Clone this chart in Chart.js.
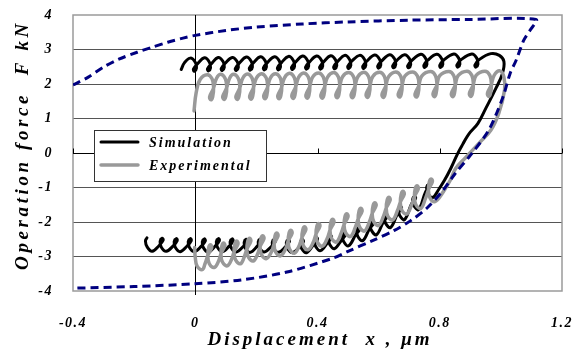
<!DOCTYPE html>
<html>
<head>
<meta charset="utf-8">
<script src="https://cdn.jsdelivr.net/npm/chart.js@4/dist/chart.umd.min.js"></script>
<style>
html,body{margin:0;padding:0;background:#fff;}
#wrap{width:577px;height:351px;position:relative;}
</style>
</head>
<body>
<div id="wrap"><canvas id="c" width="577" height="351"></canvas></div>
<script>
// ---- tick labels ----
const xTicks = [-0.4, 0, 0.4, 0.8, 1.2];
const xTickLabels = ['-0.4', '0', '0.4', '0.8', '1.2'];
const yTicks = [-4, -3, -2, -1, 0, 1, 2, 3, 4];
const yTickLabels = ['-4', '-3', '-2', '-1', '0', '1', '2', '3', '4'];
const seriesNames = ['Simulation', 'Experimental'];
const xTitle = 'Displacement  x , \u03bcm';
const yTitle = 'Operation force  F kN';

// ---- Simulation (black) ----
const simUpper = [
[-0.046,2.42],[-0.035,2.62],
[-0.016,2.75],[0.000,2.63],[0.004,2.46],[-0.003,2.37],[-0.006,2.43],[0.007,2.58],
[0.030,2.76],[0.046,2.64],[0.050,2.47],[0.043,2.38],[0.040,2.44],[0.053,2.59],
[0.075,2.77],[0.091,2.65],[0.095,2.48],[0.088,2.39],[0.085,2.45],[0.098,2.60],
[0.121,2.77],[0.137,2.65],[0.141,2.48],[0.134,2.39],[0.131,2.45],[0.144,2.60],
[0.167,2.78],[0.183,2.66],[0.187,2.49],[0.180,2.40],[0.177,2.46],[0.190,2.61],
[0.213,2.79],[0.229,2.67],[0.233,2.50],[0.226,2.41],[0.223,2.47],[0.236,2.62],
[0.259,2.79],[0.275,2.67],[0.279,2.50],[0.272,2.41],[0.269,2.47],[0.282,2.62],
[0.305,2.80],[0.321,2.68],[0.325,2.51],[0.318,2.42],[0.315,2.48],[0.328,2.63],
[0.351,2.81],[0.367,2.69],[0.371,2.52],[0.364,2.43],[0.361,2.49],[0.374,2.64],
[0.397,2.81],[0.413,2.69],[0.417,2.52],[0.410,2.43],[0.407,2.49],[0.420,2.64],
[0.443,2.82],[0.459,2.70],[0.463,2.53],[0.456,2.44],[0.453,2.50],[0.466,2.65],
[0.489,2.83],[0.505,2.71],[0.509,2.54],[0.502,2.45],[0.499,2.51],[0.512,2.66],
[0.538,2.83],[0.554,2.71],[0.558,2.54],[0.551,2.45],[0.548,2.51],[0.561,2.66],
[0.587,2.84],[0.603,2.72],[0.607,2.55],[0.600,2.46],[0.597,2.52],[0.610,2.67],
[0.636,2.85],[0.652,2.73],[0.656,2.56],[0.649,2.47],[0.646,2.53],[0.659,2.68],
[0.685,2.85],[0.701,2.73],[0.705,2.56],[0.698,2.47],[0.695,2.53],[0.708,2.68],
[0.738,2.86],[0.754,2.74],[0.758,2.57],[0.751,2.48],[0.748,2.54],[0.761,2.69],
[0.790,2.86],[0.806,2.74],[0.810,2.57],[0.803,2.48],[0.800,2.54],[0.813,2.69],
[0.846,2.87],[0.862,2.75],[0.866,2.58],[0.859,2.49],[0.856,2.55],[0.869,2.70],
[0.905,2.87],[0.921,2.75],[0.925,2.58],[0.918,2.49],[0.915,2.55],[0.928,2.70],
[0.967,2.88],[0.995,2.83],[1.010,2.65]
];
const simRight = [
[1.005,2.30],[0.984,1.88],[0.951,1.30],[0.925,0.86],[0.895,0.55],
[0.875,0.25],[0.859,-0.01],[0.836,-0.45],[0.815,-0.80],[0.797,-1.05]
];
const simLower = [
[0.777,-1.29],[0.761,-1.17],[0.757,-1.00],[0.764,-0.91],[0.767,-0.97],[0.754,-1.12],
[0.731,-1.64],[0.715,-1.52],[0.711,-1.35],[0.718,-1.26],[0.721,-1.32],[0.708,-1.47],
[0.685,-1.93],[0.669,-1.81],[0.665,-1.64],[0.672,-1.55],[0.675,-1.61],[0.662,-1.76],
[0.639,-2.16],[0.623,-2.04],[0.619,-1.87],[0.626,-1.78],[0.629,-1.84],[0.616,-1.99],
[0.593,-2.37],[0.577,-2.25],[0.573,-2.08],[0.580,-1.99],[0.583,-2.05],[0.570,-2.20],
[0.548,-2.54],[0.532,-2.42],[0.528,-2.25],[0.535,-2.16],[0.538,-2.22],[0.525,-2.37],
[0.502,-2.69],[0.486,-2.57],[0.482,-2.40],[0.489,-2.31],[0.492,-2.37],[0.479,-2.52],
[0.456,-2.77],[0.440,-2.65],[0.436,-2.48],[0.443,-2.39],[0.446,-2.45],[0.433,-2.60],
[0.410,-2.83],[0.394,-2.71],[0.390,-2.54],[0.397,-2.45],[0.400,-2.51],[0.387,-2.66],
[0.364,-2.89],[0.348,-2.77],[0.344,-2.60],[0.351,-2.51],[0.354,-2.57],[0.341,-2.72],
[0.318,-2.89],[0.302,-2.77],[0.298,-2.60],[0.305,-2.51],[0.308,-2.57],[0.295,-2.72],
[0.272,-2.88],[0.256,-2.76],[0.252,-2.59],[0.259,-2.50],[0.262,-2.56],[0.249,-2.71],
[0.226,-2.87],[0.210,-2.75],[0.206,-2.58],[0.213,-2.49],[0.216,-2.55],[0.203,-2.70],
[0.180,-2.88],[0.164,-2.76],[0.160,-2.59],[0.167,-2.50],[0.170,-2.56],[0.157,-2.71],
[0.134,-2.87],[0.118,-2.75],[0.114,-2.58],[0.121,-2.49],[0.124,-2.55],[0.111,-2.70],
[0.089,-2.86],[0.073,-2.74],[0.069,-2.57],[0.076,-2.48],[0.079,-2.54],[0.066,-2.69],
[0.043,-2.87],[0.027,-2.75],[0.023,-2.58],[0.030,-2.49],[0.033,-2.55],[0.020,-2.70],
[-0.003,-2.86],[-0.019,-2.74],[-0.023,-2.57],[-0.016,-2.48],[-0.013,-2.54],[-0.026,-2.69],
[-0.049,-2.86],[-0.065,-2.74],[-0.069,-2.57],[-0.062,-2.48],[-0.059,-2.54],[-0.072,-2.69],
[-0.095,-2.85],[-0.111,-2.73],[-0.115,-2.56],[-0.108,-2.47],[-0.105,-2.53],[-0.118,-2.68],
[-0.141,-2.85],[-0.157,-2.73],[-0.163,-2.55],[-0.158,-2.46]
];

// ---- Experimental (grey) ----
const expUpper = [
[-0.004,1.22],[0.003,1.75],[0.016,2.13],
[0.039,2.27],[0.055,2.15],[0.060,1.89],[0.057,1.63],[0.051,1.54],[0.047,1.63],[0.059,1.86],[0.069,2.15],
[0.082,2.28],[0.098,2.16],[0.103,1.90],[0.100,1.64],[0.094,1.55],[0.090,1.64],[0.102,1.87],[0.112,2.16],
[0.125,2.28],[0.141,2.16],[0.146,1.90],[0.143,1.64],[0.137,1.55],[0.133,1.64],[0.145,1.87],[0.155,2.16],
[0.170,2.29],[0.186,2.17],[0.191,1.91],[0.188,1.65],[0.182,1.56],[0.178,1.65],[0.190,1.88],[0.200,2.17],
[0.216,2.30],[0.232,2.18],[0.237,1.92],[0.234,1.66],[0.228,1.57],[0.224,1.66],[0.236,1.89],[0.246,2.18],
[0.262,2.30],[0.278,2.18],[0.283,1.92],[0.280,1.66],[0.274,1.57],[0.270,1.66],[0.282,1.89],[0.292,2.18],
[0.308,2.31],[0.324,2.19],[0.329,1.93],[0.326,1.67],[0.320,1.58],[0.316,1.67],[0.328,1.90],[0.338,2.19],
[0.354,2.32],[0.370,2.20],[0.375,1.94],[0.372,1.68],[0.366,1.59],[0.362,1.68],[0.374,1.91],[0.384,2.20],
[0.403,2.32],[0.419,2.20],[0.424,1.94],[0.421,1.68],[0.415,1.59],[0.411,1.68],[0.423,1.91],[0.433,2.20],
[0.452,2.33],[0.468,2.21],[0.473,1.95],[0.470,1.69],[0.464,1.60],[0.460,1.69],[0.472,1.92],[0.482,2.21],
[0.502,2.33],[0.518,2.21],[0.523,1.95],[0.520,1.69],[0.514,1.60],[0.510,1.69],[0.522,1.92],[0.532,2.21],
[0.551,2.34],[0.567,2.22],[0.572,1.96],[0.569,1.70],[0.563,1.61],[0.559,1.70],[0.571,1.93],[0.581,2.22],
[0.603,2.34],[0.619,2.22],[0.624,1.96],[0.621,1.70],[0.615,1.61],[0.611,1.70],[0.623,1.93],[0.633,2.22],
[0.656,2.35],[0.672,2.23],[0.677,1.97],[0.674,1.71],[0.668,1.62],[0.664,1.71],[0.676,1.94],[0.686,2.23],
[0.711,2.35],[0.727,2.23],[0.732,1.97],[0.729,1.71],[0.723,1.62],[0.719,1.71],[0.731,1.94],[0.741,2.23],
[0.770,2.36],[0.786,2.24],[0.791,1.98],[0.788,1.72],[0.782,1.63],[0.778,1.72],[0.790,1.95],[0.800,2.24],
[0.830,2.36],[0.846,2.24],[0.851,1.98],[0.848,1.72],[0.842,1.63],[0.838,1.72],[0.850,1.95],[0.860,2.24],
[0.889,2.37],[0.905,2.25],[0.910,1.99],[0.907,1.73],[0.901,1.64],[0.897,1.73],[0.909,1.96],[0.919,2.25],
[0.948,2.37],[0.964,2.25],[0.969,1.99],[0.966,1.73],[0.960,1.64],[0.956,1.73],[0.968,1.96],[0.978,2.25],
[0.997,2.38]
];
const expRight = [
[1.010,2.20],[1.012,1.82],[0.993,1.15],[0.967,0.66],[0.928,0.28],
[0.885,-0.13],[0.852,-0.45],[0.835,-0.78],[0.812,-1.12]
];
const expLower = [
[0.784,-1.41],[0.768,-1.30],[0.763,-1.07],[0.766,-0.83],[0.772,-0.75],[0.776,-0.83],[0.764,-1.04],[0.754,-1.30],
[0.738,-1.61],[0.722,-1.50],[0.717,-1.27],[0.720,-1.03],[0.726,-0.95],[0.730,-1.03],[0.718,-1.24],[0.708,-1.50],
[0.692,-1.77],[0.676,-1.66],[0.671,-1.43],[0.674,-1.19],[0.680,-1.11],[0.684,-1.19],[0.672,-1.40],[0.662,-1.66],
[0.646,-1.94],[0.630,-1.83],[0.625,-1.60],[0.628,-1.36],[0.634,-1.28],[0.638,-1.36],[0.626,-1.57],[0.616,-1.83],
[0.600,-2.10],[0.584,-1.99],[0.579,-1.76],[0.582,-1.52],[0.588,-1.44],[0.592,-1.52],[0.580,-1.73],[0.570,-1.99],
[0.554,-2.26],[0.538,-2.15],[0.533,-1.92],[0.536,-1.68],[0.542,-1.60],[0.546,-1.68],[0.534,-1.89],[0.524,-2.15],
[0.508,-2.42],[0.492,-2.31],[0.487,-2.08],[0.490,-1.84],[0.496,-1.76],[0.500,-1.84],[0.488,-2.05],[0.478,-2.31],
[0.462,-2.58],[0.446,-2.47],[0.441,-2.24],[0.444,-2.00],[0.450,-1.92],[0.454,-2.00],[0.442,-2.21],[0.432,-2.47],
[0.416,-2.70],[0.400,-2.59],[0.395,-2.36],[0.398,-2.12],[0.404,-2.04],[0.408,-2.12],[0.396,-2.33],[0.386,-2.59],
[0.370,-2.80],[0.354,-2.69],[0.349,-2.46],[0.352,-2.22],[0.358,-2.14],[0.362,-2.22],[0.350,-2.43],[0.340,-2.69],
[0.325,-2.90],[0.309,-2.79],[0.304,-2.56],[0.307,-2.32],[0.313,-2.24],[0.317,-2.32],[0.305,-2.53],[0.295,-2.79],
[0.279,-2.98],[0.263,-2.87],[0.258,-2.64],[0.261,-2.40],[0.267,-2.32],[0.271,-2.40],[0.259,-2.61],[0.249,-2.87],
[0.233,-3.06],[0.217,-2.95],[0.212,-2.72],[0.215,-2.48],[0.221,-2.40],[0.225,-2.48],[0.213,-2.69],[0.203,-2.95],
[0.190,-3.13],[0.174,-3.02],[0.169,-2.79],[0.172,-2.55],[0.178,-2.47],[0.182,-2.55],[0.170,-2.76],[0.160,-3.02],
[0.148,-3.21],[0.132,-3.10],[0.127,-2.87],[0.130,-2.63],[0.136,-2.55],[0.140,-2.63],[0.128,-2.84],[0.118,-3.10],
[0.105,-3.27],[0.089,-3.16],[0.084,-2.93],[0.087,-2.69],[0.093,-2.61],[0.097,-2.69],[0.085,-2.90],[0.075,-3.16],
[0.062,-3.32],[0.046,-3.21],[0.041,-2.98],[0.044,-2.74],[0.050,-2.66],[0.054,-2.74],[0.042,-2.95],[0.032,-3.21],
[0.023,-3.38],[0.006,-3.28],[0.000,-3.02],[-0.002,-2.74]
];

// ---- limit envelope (navy dashed) ----
const envelope = [
[-0.40,1.97],[-0.35,2.20],[-0.30,2.49],[-0.25,2.72],[-0.19,2.92],[-0.14,3.07],
[-0.09,3.21],[-0.04,3.33],[0.00,3.41],[0.10,3.55],[0.20,3.65],[0.35,3.74],
[0.50,3.80],[0.70,3.85],[0.90,3.87],[1.115,3.87],
[1.095,3.55],[1.075,3.27],[1.050,2.69],[1.030,2.30],[1.006,1.60],[0.960,0.66],
[0.900,-0.07],[0.850,-0.60],[0.810,-1.09],[0.760,-1.58],[0.705,-1.96],[0.650,-2.25],
[0.580,-2.54],[0.500,-2.85],[0.450,-3.05],[0.300,-3.45],[0.150,-3.68],[0.000,-3.79],
[-0.200,-3.87],[-0.400,-3.92]
];

const pts = arr => arr.map(p => ({x: p[0], y: p[1]}));
const FONT = "'Liberation Serif','Times New Roman',serif";
const simColor = '#000000', expColor = '#999999', envColor = '#000080';

const decor = {
  id: 'decor',
  beforeDraw(chart) { chart.ctx.letterSpacing = '1.5px'; },
  beforeDatasetsDraw(chart) {
    const {ctx, chartArea: a, scales: {x, y}} = chart;
    ctx.save();
    ctx.letterSpacing = '0px';
    ctx.strokeStyle = '#9a9a9a'; ctx.lineWidth = 1.5;
    ctx.strokeRect(a.left, a.top, a.right - a.left, a.bottom - a.top);
    ctx.strokeStyle = '#000'; ctx.lineWidth = 1;
    const x0 = Math.round(x.getPixelForValue(0)) + 0.5;
    const y0 = Math.round(y.getPixelForValue(0)) + 0.5;
    ctx.beginPath();
    ctx.moveTo(x0, a.top); ctx.lineTo(x0, a.bottom + 4);
    ctx.moveTo(a.left, y0); ctx.lineTo(a.right, y0);
    xTicks.forEach(v => {
      const px = Math.round(x.getPixelForValue(v)) + 0.5;
      ctx.moveTo(px, y0); ctx.lineTo(px, y0 - 5);
    });
    ctx.stroke();
    ctx.restore();
  },
  afterDraw(chart) {
    const ctx = chart.ctx;
    ctx.save();
    ctx.letterSpacing = '0px';
    ctx.fillStyle = '#fff';
    ctx.fillRect(94, 130, 172, 51);
    ctx.strokeStyle = '#333'; ctx.lineWidth = 1;
    ctx.strokeRect(94.5, 130.5, 172, 51);
    const items = [[seriesNames[0], simColor, 3, 142], [seriesNames[1], expColor, 3.5, 165]];
    ctx.font = 'italic bold 14px ' + FONT;
    ctx.textBaseline = 'middle'; ctx.textAlign = 'left';
    items.forEach(([t, c, w, yy]) => {
      ctx.strokeStyle = c; ctx.lineWidth = w; ctx.lineCap = 'round';
      ctx.beginPath(); ctx.moveTo(101, yy); ctx.lineTo(138, yy); ctx.stroke();
      ctx.fillStyle = '#000';
      ctx.letterSpacing = '2px';
      ctx.fillText(t, 149, yy + 1);
      ctx.letterSpacing = '0px';
    });
    ctx.fillStyle = '#000';
    ctx.font = 'italic bold 19px ' + FONT;
    ctx.letterSpacing = '3px';
    ctx.textAlign = 'center'; ctx.textBaseline = 'middle';
    ctx.fillText(xTitle, 320, 340);
    ctx.letterSpacing = '3.6px';
    ctx.translate(23, 145);
    ctx.rotate(-Math.PI / 2);
    ctx.fillText(yTitle, 0, 0);
    ctx.restore();
    ctx.letterSpacing = '0px';
  }
};

new Chart(document.getElementById('c'), {
  type: 'scatter',
  data: {
    datasets: [
      {label: 'envelope', data: pts(envelope), showLine: true, borderColor: envColor,
       borderWidth: 3, borderDash: [8, 5], tension: 0.3, pointRadius: 0, order: 0, fill: false},
      {label: seriesNames[1], data: pts(expUpper.concat(expRight, expLower)), showLine: true,
       borderColor: expColor, borderWidth: 3.5, tension: 0.4, pointRadius: 0, order: 1,
       borderJoinStyle: 'round', borderCapStyle: 'round', fill: false},
      {label: seriesNames[0], data: pts(simUpper.concat(simRight, simLower)), showLine: true,
       borderColor: simColor, borderWidth: 3, tension: 0.4, pointRadius: 0, order: 2,
       borderJoinStyle: 'round', borderCapStyle: 'round', fill: false}
    ]
  },
  options: {
    responsive: false,
    animation: false,
    layout: {padding: {left: 0, right: 15, top: 15, bottom: 0}},
    plugins: {legend: {display: false}, tooltip: {enabled: false}},
    scales: {
      x: {
        type: 'linear', min: -0.4, max: 1.2,
        afterBuildTicks: s => { s.ticks = xTicks.map(v => ({value: v})); },
        afterFit: s => { s.height = 60; s.paddingLeft = 0; s.paddingRight = 0; },
        grid: {display: false, drawTicks: false},
        border: {display: false},
        ticks: {padding: 24, color: '#000', font: {family: FONT, size: 14, weight: 'bold', style: 'italic'},
                maxRotation: 0, callback: (v, i) => xTickLabels[i]}
      },
      y: {
        type: 'linear', min: -4, max: 4,
        afterBuildTicks: s => { s.ticks = yTicks.map(v => ({value: v})); },
        afterFit: s => { s.width = 73; s.paddingTop = 0; s.paddingBottom = 0; },
        grid: {drawTicks: false, lineWidth: 1,
               color: c => (c.tick && Math.abs(c.tick.value) === 4) ? 'rgba(0,0,0,0)' : (c.tick && c.tick.value === 0 ? '#000' : '#555')},
        border: {display: false},
        ticks: {padding: 20, color: '#000', font: {family: FONT, size: 14, weight: 'bold', style: 'italic'},
                callback: (v, i) => yTickLabels[i]}
      }
    }
  },
  plugins: [decor]
});
</script>
</body>
</html>
